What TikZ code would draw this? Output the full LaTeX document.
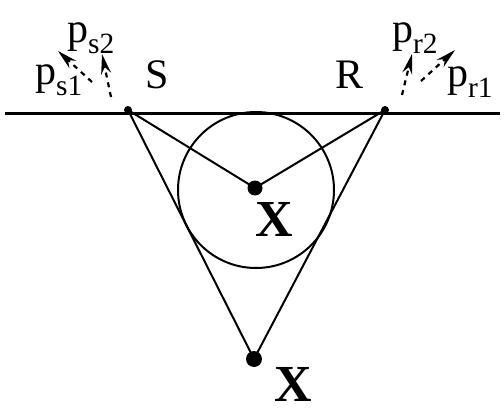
\documentclass[tikz,border=0pt]{standalone}
\usepackage{fontspec}
\setmainfont{Liberation Serif}
\usetikzlibrary{arrows.meta}
\begin{document}
\begin{tikzpicture}[x=1pt,y=-1pt,
  thinline/.style={line width=2pt},
  pdot/.style={circle,fill=black,inner sep=0pt,minimum size=#1},
  ray/.style={line width=2.2pt,dash pattern=on 5pt off 5pt,-{Stealth[length=20pt,width=10pt]}},
  lab/.style={font=\fontsize{42}{42}\selectfont,inner sep=0pt},
  xlab/.style={font=\fontsize{52}{52}\selectfont\bfseries,inner sep=0pt}]
\useasboundingbox (0,0) rectangle (504,415);
\coordinate (L) at (5,113);
\coordinate (Rend) at (500,113);
\draw[line width=3pt] (L) -- (Rend);
\node[pdot=8pt] (S) at (128,110) {};
\node[pdot=8pt] (R) at (385,110) {};
\node[pdot=15pt] (X1) at (255,188) {};
\node[pdot=16pt] (X2) at (254,359) {};
\node[circle,draw,thinline,minimum size=156pt,inner sep=0pt] (C) at (256,190) {};
\draw[thinline] (S.center) -- (X1.center) -- (R.center);
\draw[thinline] (S.center) -- (X2.center) -- (R.center);
% rays
\coordinate (a1) at (92,82); \coordinate (b1) at (58,51);
\coordinate (a2) at (111,97); \coordinate (b2) at (102,54);
\coordinate (a3) at (402,95); \coordinate (b3) at (412,54);
\coordinate (a4) at (421,81); \coordinate (b4) at (455,50);
\draw[ray] (a1) -- (b1);
\draw[ray] (a2) -- (b2);
\draw[ray] (a3) -- (b3);
\draw[ray] (a4) -- (b4);
% labels
\node[lab] (ps2) at (91,38) {p\textsubscript{s2}};
\node[lab] (ps1) at (59,80) {p\textsubscript{s1}};
\node[lab] (Sl) at (157,75) {S};
\node[lab] (Rl) at (350,75) {R};
\node[lab] (pr2) at (415,38) {p\textsubscript{r2}};
\node[lab] (pr1) at (470,82) {p\textsubscript{r1}};
\node[xlab] (X1l) at (274,219) {X};
\node[xlab] (X2l) at (293,384) {X};
\end{tikzpicture}
\end{document}
